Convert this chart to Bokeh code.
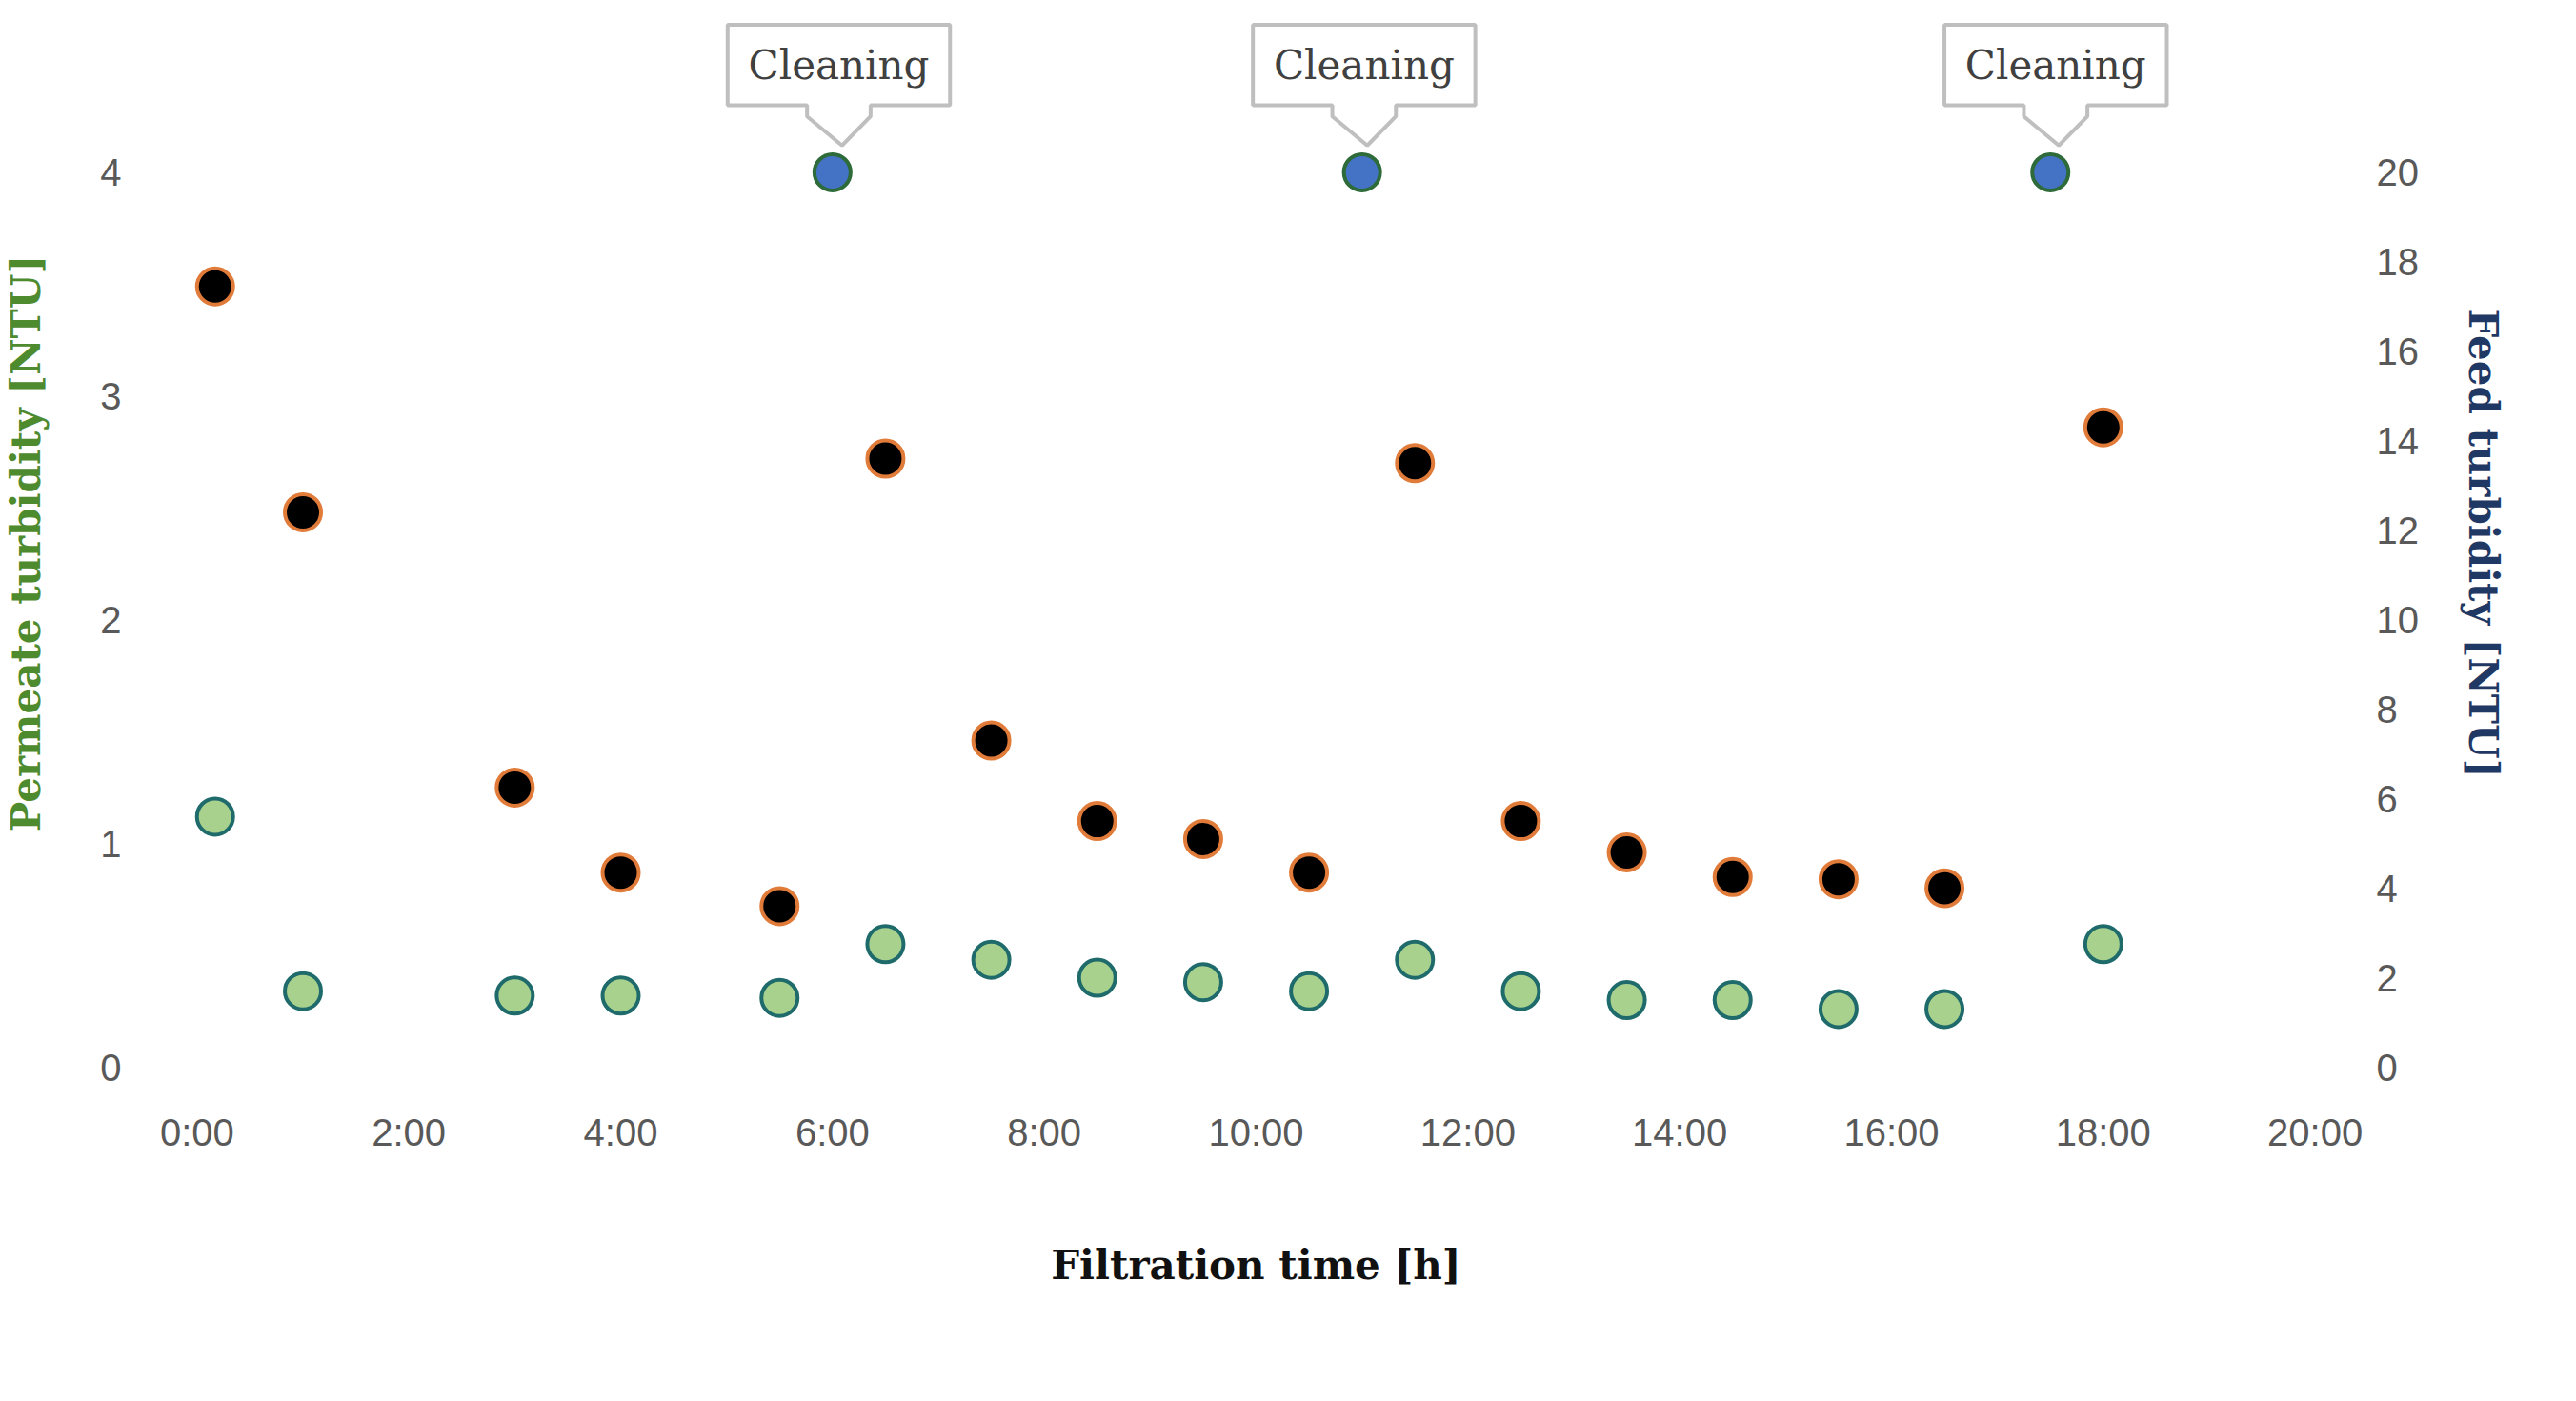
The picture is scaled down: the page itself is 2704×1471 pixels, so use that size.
from bokeh.plotting import figure
from bokeh.models import Range1d, LinearAxis, FixedTicker, Legend, LegendItem
from bokeh.core.properties import value
from bokeh.embed import file_html
from bokeh.resources import INLINE

hours = [0.17, 1, 3, 4, 5.5, 6.5, 7.5, 8.5, 9.5, 10.5, 11.5, 12.5, 13.5, 14.5, 15.5, 16.5, 18]
feed = [5.6, 1.7, 1.6, 1.6, 1.55, 2.75, 2.4, 2.0, 1.9, 1.7, 2.4, 1.7, 1.5, 1.5, 1.3, 1.3, 2.75]
permeate = [3.49, 2.48, 1.25, 0.87, 0.72, 2.72, 1.46, 1.10, 1.02, 0.87, 2.70, 1.10, 0.96, 0.85, 0.84, 0.80, 2.86]
clean_hours = [6.0, 11.0, 17.5]
clean_val = [4, 4, 4]
clean_box_x = [6.06, 11.02, 17.55]
clean_label = "Cleaning"
x_ticks = [0, 2, 4, 6, 8, 10, 12, 14, 16, 18, 20]
x_labels = {t: f"{t}:00" for t in x_ticks}

p = figure(frame_width=2290, frame_height=1100, output_backend="svg", toolbar_location=None,
           x_range=Range1d(-0.3, 20.3), y_range=Range1d(0, 4.683),
           min_border_left=170, min_border_right=20, min_border_top=20, min_border_bottom=10)
p.extra_y_ranges = {"right": Range1d(0, 23.415)}
p.outline_line_color = None
p.xgrid.visible = False
p.ygrid.visible = False

p.xaxis.ticker = FixedTicker(ticks=x_ticks)
p.xaxis.major_label_overrides = {t: l for t, l in x_labels.items()}
p.yaxis.ticker = FixedTicker(ticks=[0, 1, 2, 3, 4])
ra = LinearAxis(y_range_name="right", ticker=FixedTicker(ticks=list(range(0, 21, 2))))
p.add_layout(ra, "right")

for ax in [p.xaxis[0], p.yaxis[0], ra]:
    ax.axis_line_color = None
    ax.major_tick_line_color = None
    ax.minor_tick_line_color = None
    ax.major_label_text_font = "Liberation Sans"
    ax.major_label_text_font_size = "40px"
    ax.major_label_text_color = "#595959"
    ax.axis_label_text_font = "DejaVu Serif"
    ax.axis_label_text_font_style = "bold"
    ax.axis_label_text_font_size = "42px"
p.xaxis.major_label_standoff = 40
p.xaxis.axis_label = "Filtration time [h]"
p.xaxis.axis_label_standoff = 90
p.xaxis.axis_label_text_color = "#111111"
p.yaxis[0].axis_label = "Permeate turbidity [NTU]"
p.yaxis[0].axis_label_text_color = "#4e8a2e"
p.yaxis[0].major_label_standoff = 40
p.yaxis[0].axis_label_standoff = 50
ra.axis_label = "Feed turbidity [NTU]"
ra.axis_label_text_color = "#1f3864"
ra.major_label_standoff = 25
ra.axis_label_standoff = 40

for c in clean_box_x:
    xs = [c - 1.05, c + 1.05, c + 1.05, c + 0.3, c + 0.3, c + 0.03, c - 0.3, c - 0.3, c - 1.05]
    ys = [4.66, 4.66, 4.30, 4.30, 4.25, 4.12, 4.25, 4.30, 4.30]
    p.patch(xs, ys, fill_color="white", line_color="#bfbfbf", line_width=4)
p.text(x=clean_box_x, y=[4.48] * 3, text=[clean_label] * 3, text_align="center", text_baseline="middle",
       text_font=value("DejaVu Serif"), text_font_size="42px", text_color="#404040")

r_feed = p.scatter(hours, feed, y_range_name="right", size=38, fill_color="#a9d18e",
                   line_color="#1f6b6b", line_width=4)
r_perm = p.scatter(hours, permeate, size=38, fill_color="black", line_color="#e07b39", line_width=4)
p.scatter(clean_hours, clean_val, size=38, fill_color="#4472c4", line_color="#2e6b3a", line_width=4)

leg = Legend(items=[LegendItem(label="Feed", renderers=[r_feed]),
                    LegendItem(label="Permeate", renderers=[r_perm])],
             orientation="horizontal", location="center", spacing=0, label_width=780,
             label_text_font="DejaVu Serif", label_text_font_style="bold",
             label_text_font_size="46px", label_text_color="#111111",
             border_line_color=None, glyph_width=50, glyph_height=50, label_standoff=40,
             padding=10, margin=20)
p.add_layout(leg, "below")

open("out.html", "w").write(file_html(p, INLINE))
